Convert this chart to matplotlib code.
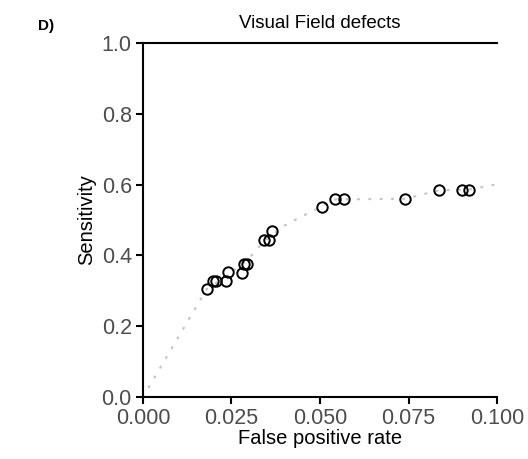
import matplotlib
matplotlib.use("Agg")
import matplotlib.pyplot as plt

plt.rcParams['font.family'] = ['Liberation Sans', 'DejaVu Sans']

# Observed operating points
fpr = [0.0180, 0.0199, 0.0206, 0.0234, 0.0240, 0.0279, 0.0286, 0.0293,
       0.0342, 0.0357, 0.0365, 0.0505, 0.0542, 0.0569, 0.0741, 0.0837,
       0.0902, 0.0921]
sens = [0.305, 0.329, 0.329, 0.329, 0.352, 0.351, 0.376, 0.376,
        0.443, 0.443, 0.469, 0.538, 0.560, 0.560, 0.560, 0.584,
        0.584, 0.584]

# Fitted curve (dotted)
curve_fpr = [0.0, 0.018, 0.0234, 0.0293, 0.0342, 0.0394, 0.0444, 0.0505,
             0.0542, 0.0741, 0.0800, 0.0837, 0.0921, 0.100]
curve_sens = [0.0, 0.305, 0.340, 0.385, 0.440, 0.481, 0.508, 0.538,
              0.558, 0.560, 0.575, 0.584, 0.586, 0.601]

xticks = [0.000, 0.025, 0.050, 0.075, 0.100]
yticks = [0.0, 0.2, 0.4, 0.6, 0.8, 1.0]

fig = plt.figure(figsize=(5.28, 4.59), dpi=100)
ax = fig.add_axes([0.2708, 0.1351, 0.6705, 0.7712])

ax.plot(curve_fpr, curve_sens, linestyle=(0, (0.5, 4.6)), color='#c4c4c4',
        linewidth=1.6, dash_capstyle='round', zorder=1)
ax.plot(fpr, sens, 'o', markerfacecolor='none', markeredgecolor='black',
        markersize=7.5, markeredgewidth=1.4, zorder=2)

ax.set_xlim(0, 0.1)
ax.set_ylim(0, 1.0)
ax.set_xticks(xticks)
ax.set_xticklabels([f"{t:.3f}" for t in xticks])
ax.set_yticks(yticks)
ax.set_yticklabels([f"{t:.1f}" for t in yticks])

for side in ['left', 'bottom', 'top']:
    ax.spines[side].set_linewidth(1.5)
ax.spines['right'].set_visible(False)
ax.tick_params(direction='out', length=5, width=1.5, labelsize=15.5,
               labelcolor='#4d4d4d', pad=3, top=False, right=False)

ax.set_xlabel('False positive rate', fontsize=14.5, labelpad=0)
ax.set_ylabel('Sensitivity', fontsize=14.5, labelpad=4)
ax.set_title('Visual Field defects', fontsize=13.5, pad=11)
fig.text(0.072, 0.935, 'D)', fontsize=11, fontweight='bold')

fig.savefig('out.png', dpi=100)
